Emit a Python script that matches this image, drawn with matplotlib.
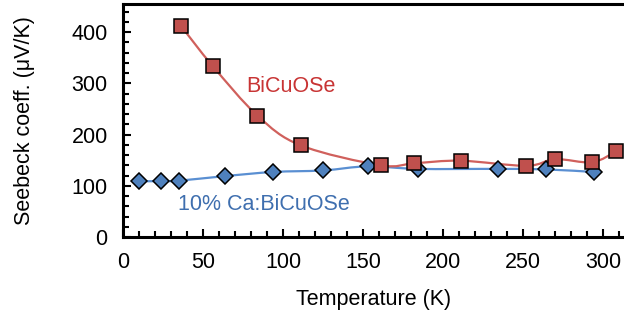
import numpy as np
import matplotlib
matplotlib.use("Agg")
import matplotlib.pyplot as plt
from matplotlib.path import Path
from matplotlib.patches import PathPatch
from matplotlib.ticker import MultipleLocator

plt.rcParams['font.family'] = ['Liberation Sans', 'DejaVu Sans']

# Data
t_pure = [36, 56, 84, 111, 161, 182, 211, 252, 270, 293, 308]
s_pure = [413, 334, 237, 179, 140, 144, 149, 139, 152, 146, 167]
t_ca = [10, 24, 35, 64, 94, 125, 153, 184, 234, 264, 294]
s_ca = [109, 109, 110, 119, 127, 130, 138, 133, 133, 132, 127]
label_pure = "BiCuOSe"
label_ca = "10% Ca:BiCuOSe"

red = "#C0504D"
red_line = "#D0605C"
blue = "#4F81BD"
blue_line = "#5A8FD2"
fs = 15.5


def smooth_path(xs, ys):
    p = np.column_stack([xs, ys]).astype(float)
    n = len(p)
    verts = [p[0]]
    codes = [Path.MOVETO]
    for i in range(n - 1):
        p0 = p[i - 1] if i > 0 else p[i]
        p1 = p[i]
        p2 = p[i + 1]
        p3 = p[i + 2] if i + 2 < n else p[i + 1]
        c1 = p1 + (p2 - p0) / 6.0
        c2 = p2 - (p3 - p1) / 6.0
        verts += [c1, c2, p2]
        codes += [Path.CURVE4] * 3
    return Path(verts, codes)


fig = plt.figure(figsize=(6.24, 3.2), dpi=100)
ax = fig.add_axes([123 / 624, 83 / 320, 1 - 123 / 624, (237 - 4) / 320])

ax.add_patch(PathPatch(smooth_path(t_ca, s_ca), fill=False, color=blue_line, lw=1.6, zorder=2))
ax.add_patch(PathPatch(smooth_path(t_pure, s_pure), fill=False, color=red_line, lw=1.6, zorder=2))
ax.plot(t_ca, s_ca, ls='none', marker='D', ms=8.5, mfc=blue, mec='black', mew=1.1, zorder=3)
ax.plot(t_pure, s_pure, ls='none', marker='s', ms=9.6, mfc=red, mec='black', mew=1.1, zorder=4)

ax.set_xlim(0, 313)
ax.set_ylim(0, 455)
ax.xaxis.set_major_locator(MultipleLocator(50))
ax.xaxis.set_minor_locator(MultipleLocator(10))
ax.yaxis.set_major_locator(MultipleLocator(100))
ax.yaxis.set_minor_locator(MultipleLocator(20))
ax.tick_params(which='both', direction='in', width=1.5, colors='black', labelsize=fs, top=False, right=False)
ax.tick_params(which='major', length=6)
ax.tick_params(which='minor', length=4)
ax.tick_params(axis='x', which='major', pad=11)
ax.tick_params(axis='y', which='major', pad=11)
for side in ['left', 'bottom', 'top']:
    ax.spines[side].set_linewidth(2.2)
ax.spines['right'].set_visible(False)

ax.set_xlabel("Temperature (K)", fontsize=fs, labelpad=11)
ax.set_ylabel("Seebeck coeff. (\u03bcV/K)", fontsize=fs, labelpad=26)

ax.text((246 - 123) / 1.6, (237 - 86) / 0.515, label_pure, color="#C83434",
        fontsize=fs, va='center', ha='left')
ax.text((178 - 123) / 1.6, (237 - 204) / 0.515, label_ca, color="#3F6FAF",
        fontsize=fs, va='center', ha='left')

fig.savefig("out.png", dpi=100)
